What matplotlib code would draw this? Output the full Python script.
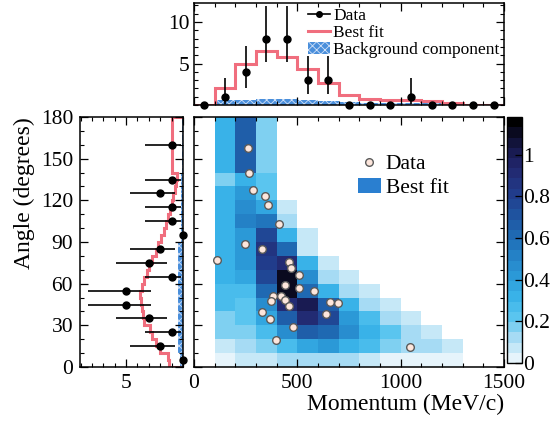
import numpy as np
import matplotlib
matplotlib.use('Agg')
import matplotlib.pyplot as plt
from matplotlib.colors import LinearSegmentedColormap
from matplotlib.lines import Line2D
from matplotlib.patches import Patch
from matplotlib.ticker import MultipleLocator

plt.rcParams['font.family'] = ['Liberation Serif', 'DejaVu Serif']
plt.rcParams['hatch.linewidth'] = 0.6

# binning
mom_edges = np.arange(0, 1600, 100)
ang_edges = np.array([0, 10, 20, 30, 40, 50, 60, 70, 80, 90, 100, 110, 120, 130, 140, 180])

# best fit 2D (rows = angle bins from 0 upwards, cols = momentum bins)
fit2d = np.array([
    [0, 0.04, 0.05, 0.06, 0.10, 0.12, 0.12, 0.10, 0.05, 0.04, 0.04, 0.04, 0.03, 0, 0],
    [0, 0.08, 0.10, 0.15, 0.25, 0.35, 0.40, 0.33, 0.25, 0.18, 0.12, 0.10, 0.05, 0, 0],
    [0, 0.15, 0.15, 0.25, 0.45, 0.65, 0.60, 0.45, 0.30, 0.20, 0.12, 0.05, 0, 0, 0],
    [0, 0.15, 0.22, 0.35, 0.68, 0.90, 0.75, 0.42, 0.25, 0.12, 0.05, 0, 0, 0, 0],
    [0, 0.25, 0.22, 0.48, 0.90, 1.00, 0.65, 0.33, 0.12, 0.05, 0, 0, 0, 0, 0],
    [0, 0.25, 0.28, 0.62, 1.12, 0.62, 0.33, 0.12, 0.05, 0, 0, 0, 0, 0, 0],
    [0, 0.30, 0.35, 0.75, 1.12, 0.45, 0.12, 0.05, 0, 0, 0, 0, 0, 0, 0],
    [0, 0.30, 0.40, 0.82, 0.90, 0.30, 0.05, 0, 0, 0, 0, 0, 0, 0, 0],
    [0, 0.30, 0.40, 0.88, 0.60, 0.08, 0, 0, 0, 0, 0, 0, 0, 0, 0],
    [0, 0.30, 0.42, 0.78, 0.33, 0.05, 0, 0, 0, 0, 0, 0, 0, 0, 0],
    [0, 0.30, 0.52, 0.55, 0.12, 0, 0, 0, 0, 0, 0, 0, 0, 0, 0],
    [0, 0.30, 0.45, 0.38, 0.05, 0, 0, 0, 0, 0, 0, 0, 0, 0, 0],
    [0, 0.30, 0.42, 0.22, 0, 0, 0, 0, 0, 0, 0, 0, 0, 0, 0],
    [0, 0.15, 0.33, 0.20, 0, 0, 0, 0, 0, 0, 0, 0, 0, 0, 0],
    [0, 0.30, 0.68, 0.17, 0, 0, 0, 0, 0, 0, 0, 0, 0, 0, 0],
])

# data events
ev_mom = [260, 268, 287, 342, 360, 413, 248, 331, 113, 460, 471, 510, 440, 510,
          582, 384, 419, 371, 440, 460, 656, 695, 331, 639, 366, 477, 395, 1045]
ev_ang = [157.9, 139.5, 127.4, 123.3, 116.6, 103, 88.6, 84.7, 77.3, 75.8, 71, 66,
          59.3, 56.6, 54.5, 51.3, 51.3, 47.7, 48.2, 43.9, 47, 46.3, 39.4, 38.2,
          34.6, 28.8, 19.4, 14.6]

# momentum projection
mom_counts = [0, 1, 4, 8, 8, 3, 3, 0, 0, 0, 1, 0, 0, 0, 0]
mom_fit = [0, 2.1, 5.0, 6.5, 5.8, 4.3, 2.6, 1.2, 0.7, 0.65, 0.6, 0.5, 0.2, 0, 0]
mom_bkg = [0, 0.6, 0.65, 0.7, 0.7, 0.6, 0.5, 0.4, 0.3, 0.3, 0.25, 0.2, 0.1, 0, 0]

# angle projection
ang_counts = [0, 2, 1, 3, 5, 5, 1, 3, 2, 0, 1, 1, 2, 1, 1]
ang_fit_edges = np.array([0, 5, 10, 15, 20, 25, 30, 35, 40, 45, 50, 55, 60, 65, 70, 75,
                          80, 85, 90, 95, 100, 105, 110, 115, 120, 125, 130, 135, 140, 180])
ang_fit = [1.2, 1.3, 2.0, 2.4, 2.7, 2.9, 3.4, 3.5, 3.6, 3.7, 3.8, 3.6, 3.4, 3.2,
           3.0, 2.7, 2.4, 2.2, 1.9, 1.7, 1.5, 1.3, 1.15, 1.0, 0.85, 0.7, 0.6, 0.5, 0.97]
ang_bkg = [0.3, 0.45, 0.45, 0.45, 0.45, 0.45, 0.45, 0.45, 0.45, 0.15, 0.15, 0.15, 0.15, 0.15, 0.1]

# poisson (garwood) errors by count
err_lo = {0: 0, 1: 0.827, 2: 1.291, 3: 1.633, 4: 1.914, 5: 2.159, 8: 2.758}
err_hi = {0: 0, 1: 2.300, 2: 2.638, 3: 2.918, 4: 3.162, 5: 3.382, 8: 3.981}

red = '#f06e7e'
cmap = LinearSegmentedColormap.from_list('fit', [
    (0.0, '#e6f4fb'), (0.1 / 1.18, '#a8dcf4'), (0.2 / 1.18, '#5cc6ef'),
    (0.3 / 1.18, '#3ab4e9'), (0.4 / 1.18, '#2c9cd9'), (0.5 / 1.18, '#2584c8'),
    (0.6 / 1.18, '#1f6cb5'), (0.7 / 1.18, '#1f57a3'), (0.8 / 1.18, '#21408f'),
    (0.9 / 1.18, '#232f7a'), (1.0 / 1.18, '#1d1f5e'), (1.1 / 1.18, '#0f0f30'),
    (1.0, '#000000')], N=24)

W, H = 555, 426
fig = plt.figure(figsize=(W / 100, H / 100), dpi=100)

def box(x0, x1, y0, y1):
    return [x0 / W, (H - y1) / H, (x1 - x0) / W, (y1 - y0) / H]

ax = fig.add_axes(box(194, 504, 117, 367))
axt = fig.add_axes(box(194, 504, 3, 105))
axl = fig.add_axes(box(80, 183, 117, 367))
cax = fig.add_axes(box(507, 522, 117, 363))

for a in (ax, axt, axl, cax):
    for s in a.spines.values():
        s.set_linewidth(1.1)
    a.tick_params(which='both', direction='in', top=True, right=True, labelsize=15.5)
    a.tick_params(which='major', length=6, width=0.9)
    a.tick_params(which='minor', length=3, width=0.8)

# main 2D panel
z = np.ma.masked_where(fit2d <= 0, fit2d)
mesh = ax.pcolormesh(mom_edges, ang_edges, z, cmap=cmap, vmin=0, vmax=1.18)
ax.plot(ev_mom, ev_ang, 'o', ms=5.5, mfc='#fde6dc', mec='#5a5a5a', mew=1.0, ls='none')
ax.set_xlim(0, 1500)
ax.set_ylim(0, 180)
ax.set_xticks([0, 500, 1000, 1500])
ax.xaxis.set_minor_locator(MultipleLocator(100))
ax.set_yticks(np.arange(0, 181, 30))
ax.yaxis.set_minor_locator(MultipleLocator(10))
ax.tick_params(labelleft=False, pad=5)
ax.set_xlabel('Momentum (MeV/c)', fontsize=17, loc='right', labelpad=1)
h_data = Line2D([], [], marker='o', ls='none', ms=5.5, mfc='#fde6dc', mec='#5a5a5a', mew=1.0)
h_fit = Patch(facecolor='#2a7fd0', edgecolor='none')
ax.legend([h_data, h_fit], ['Data', 'Best fit'], loc='upper left',
          bbox_to_anchor=(0.5, 0.885), frameon=False, fontsize=15.5,
          handlelength=1.1, handletextpad=0.2, labelspacing=0.15, borderaxespad=0)

# colorbar
cb = fig.colorbar(mesh, cax=cax)
cb.set_ticks([0, 0.2, 0.4, 0.6, 0.8, 1.0])
cb.set_ticklabels(['0', '0.2', '0.4', '0.6', '0.8', '1'])
cb.outline.set_linewidth(1.0)
cax.tick_params(which='both', direction='in', left=False, right=True, length=5, pad=1)
cax.minorticks_off()

# top projection
mom_c = mom_edges[:-1] + 50
axt.stairs(mom_bkg, mom_edges, fill=True, facecolor='#4a8fdb', edgecolor='#cfe0f7',
           hatch='xxxx', linewidth=0)
axt.stairs(mom_fit, mom_edges, color=red, lw=2.2)
lo = [err_lo[c] for c in mom_counts]
hi = [err_hi[c] for c in mom_counts]
axt.errorbar(mom_c, mom_counts, yerr=[lo, hi], fmt='o', ms=5, color='black',
             elinewidth=1.2, capsize=0, clip_on=False, zorder=5)
axt.set_xlim(0, 1500)
axt.set_ylim(0, 12.3)
axt.set_xticks([0, 500, 1000, 1500])
axt.xaxis.set_minor_locator(MultipleLocator(100))
axt.set_yticks([5, 10])
axt.yaxis.set_minor_locator(MultipleLocator(1))
axt.tick_params(labelbottom=False, pad=3)
h1 = Line2D([], [], color='black', marker='o', ms=4, lw=1.2)
h2 = Line2D([], [], color=red, lw=2.2)
h3 = Patch(facecolor='#4a8fdb', edgecolor='#cfe0f7', hatch='xxxx', linewidth=0)
axt.legend([h1, h2, h3], ['Data', 'Best fit', 'Background component'], loc='upper left',
           bbox_to_anchor=(0.345, 1.02), frameon=False, fontsize=12.5,
           handlelength=1.3, handletextpad=0.15, labelspacing=0.05, borderaxespad=0)

# left projection
ang_c = (ang_edges[:-1] + ang_edges[1:]) / 2
axl.stairs(ang_bkg, ang_edges, orientation='horizontal', fill=True, facecolor='#4a8fdb',
           edgecolor='#cfe0f7', hatch='xxxx', linewidth=0)
axl.stairs(ang_fit, ang_fit_edges, orientation='horizontal', color=red, lw=2.2)
lo = [err_lo[c] for c in ang_counts]
hi = [err_hi[c] for c in ang_counts]
axl.errorbar(ang_counts, ang_c, xerr=[lo, hi], fmt='o', ms=5, color='black',
             elinewidth=1.2, capsize=0, clip_on=False, zorder=5)
axl.set_xlim(9.05, 0)
axl.set_ylim(0, 180)
axl.set_xticks([0, 5], ['', '5'])
axl.xaxis.set_minor_locator(MultipleLocator(1))
axl.set_yticks(np.arange(0, 181, 30))
axl.yaxis.set_minor_locator(MultipleLocator(10))
axl.tick_params(pad=5)
axl.set_ylabel('Angle (degrees)', fontsize=17, loc='top', labelpad=4)

fig.savefig('out.png', dpi=100)
